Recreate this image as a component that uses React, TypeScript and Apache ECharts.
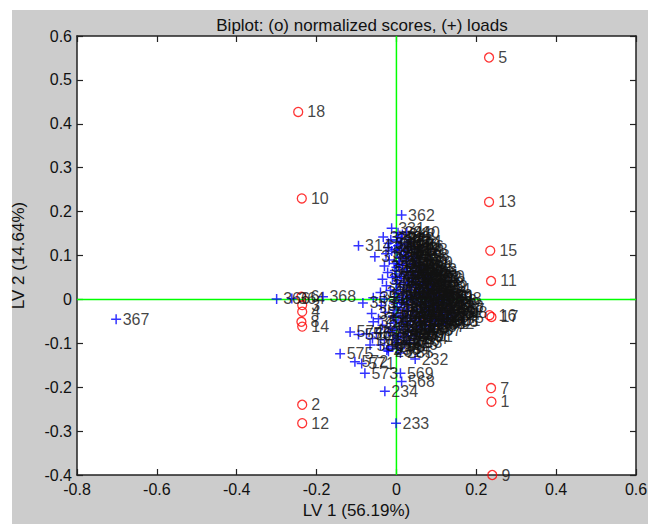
import React, { useEffect, useRef } from 'react';
import * as echarts from 'echarts';

const titleText = 'Biplot: (o) normalized scores, (+) loads';
const xAxisName = 'LV 1 (56.19%)';
const yAxisName = 'LV 2 (14.64%)';
const xMin = -0.8;
const xMax = 0.6;
const xStep = 0.2;
const yMin = -0.4;
const yMax = 0.6;
const yStep = 0.1;

// normalized scores (red circles)
const scoreNames = ['1', '2', '3', '4', '5', '6', '7', '8', '9', '10', '11', '12', '13', '14', '15', '16', '17', '18'];
const scoreX = [0.238, -0.236, -0.236, -0.236, 0.232, -0.238, 0.237, -0.238, 0.240, -0.237, 0.237, -0.236, 0.232, -0.236, 0.235, 0.233, 0.238, -0.246];
const scoreY = [-0.233, -0.240, -0.013, -0.028, 0.551, 0.006, -0.202, -0.051, -0.400, 0.230, 0.042, -0.282, 0.222, -0.062, 0.111, -0.036, -0.040, 0.427];

// loads (blue plus): [x, y, label]
const loads: [number, number, string][] = [
  [-0.702, -0.045, '367'], [-0.300, 0.001, '366'], [-0.262, 0.002, '364'], [-0.184, 0.006, '368'],
  [0.013, 0.192, '362'], [-0.012, 0.162, '331'], [-0.095, 0.122, '314'], [-0.054, 0.097, '318'],
  [-0.033, 0.142, '329'], [-0.020, 0.128, '330'], [-0.058, 0.004, '351'], [-0.084, -0.008, '353'],
  [-0.062, -0.032, '355'], [-0.058, -0.051, '357'], [-0.116, -0.074, '574'], [-0.141, -0.124, '575'],
  [-0.104, -0.142, '572'], [-0.087, -0.146, '571'], [-0.079, -0.168, '573'], [-0.029, -0.209, '234'],
  [-0.001, -0.282, '233'], [0.047, -0.136, '232'], [0.010, -0.168, '569'], [0.013, -0.187, '568'],
  [-0.021, -0.111, '578'], [0.127, -0.047, '301'], [0.088, 0.052, '360'],
  [-0.066, -0.104, '580'], [-0.024, -0.115, '236'], [-0.004, -0.092, '237'],
  [-0.095, -0.080, '576'], [-0.075, -0.078, '570'],
  [-0.012, 0.110, '315'], [-0.010, 0.050, '316'], [-0.015, 0.020, '317'], [-0.008, -0.040, '258'], [-0.015, -0.065, '259'],
  [0.004, 0.152, '341'], [0.015, 0.148, '342'], [0.026, 0.153, '340'],
  [-0.014, 0.136, '332'], [0.001, 0.133, '333'], [0.012, 0.138, '343'], [0.030, 0.132, '344'],
  [-0.021, 0.118, '319'], [0.004, 0.122, '334'], [0.020, 0.117, '345'], [0.036, 0.121, '346'], [0.045, 0.114, '348'],
  [-0.026, 0.104, '320'], [0.002, 0.107, '335'], [0.018, 0.101, '347'], [0.031, 0.106, '349'], [0.050, 0.099, '358'],
  [-0.018, 0.090, '321'], [0.006, 0.087, '336'], [0.022, 0.093, '350'], [0.040, 0.088, '352'], [0.058, 0.084, '359'],
  [-0.030, 0.076, '322'], [0.000, 0.073, '337'], [0.015, 0.078, '354'], [0.035, 0.071, '356'], [0.050, 0.077, '361'], [0.068, 0.069, '363'],
  [-0.022, 0.061, '323'], [0.008, 0.058, '338'], [0.025, 0.063, '365'], [0.045, 0.057, '369'], [0.062, 0.061, '370'], [0.075, 0.055, '371'],
  [-0.035, 0.046, '324'], [0.003, 0.043, '339'], [0.020, 0.048, '372'], [0.038, 0.042, '373'], [0.055, 0.047, '374'], [0.072, 0.041, '375'], [0.085, 0.045, '376'],
  [-0.025, 0.031, '325'], [0.010, 0.028, '377'], [0.028, 0.033, '378'], [0.048, 0.027, '379'], [0.066, 0.032, '380'], [0.080, 0.026, '381'], [0.095, 0.030, '382'],
  [-0.040, 0.016, '326'], [0.004, 0.013, '383'], [0.018, 0.018, '384'], [0.036, 0.012, '385'], [0.058, 0.017, '386'], [0.075, 0.011, '387'], [0.092, 0.016, '388'], [0.108, 0.010, '389'],
  [-0.030, 0.001, '327'], [0.008, -0.002, '390'], [0.025, 0.003, '391'], [0.045, -0.001, '392'], [0.065, 0.004, '393'], [0.085, -0.003, '394'], [0.100, 0.002, '395'], [0.118, -0.002, '396'], [0.130, 0.003, '398'],
  [-0.038, -0.014, '328'], [0.002, -0.017, '280'], [0.020, -0.012, '281'], [0.040, -0.018, '282'], [0.060, -0.013, '283'], [0.080, -0.019, '284'], [0.098, -0.014, '285'], [0.115, -0.020, '286'], [0.135, -0.016, '288'],
  [-0.028, -0.029, '260'], [0.010, -0.033, '287'], [0.030, -0.027, '289'], [0.050, -0.031, '290'], [0.070, -0.028, '291'], [0.090, -0.034, '292'], [0.110, -0.029, '293'], [0.128, -0.035, '294'], [0.145, -0.030, '298'],
  [-0.045, -0.044, '261'], [0.004, -0.047, '295'], [0.022, -0.042, '296'], [0.042, -0.048, '297'], [0.062, -0.043, '299'], [0.085, -0.049, '300'], [0.105, -0.045, '302'], [0.122, -0.050, '303'],
  [-0.035, -0.059, '262'], [0.008, -0.062, '263'], [0.028, -0.057, '264'], [0.050, -0.063, '265'], [0.070, -0.058, '266'], [0.090, -0.061, '267'],
  [-0.050, -0.076, '577'], [-0.020, -0.073, '268'], [0.010, -0.078, '269'], [0.030, -0.074, '270'], [0.050, -0.079, '277'],
  [-0.060, -0.089, '579'], [-0.030, -0.092, '271'], [0.005, -0.088, '272'], [0.025, -0.094, '273'], [0.045, -0.090, '274'],
  [-0.040, -0.104, '581'], [-0.010, -0.107, '275'], [0.020, -0.102, '276'],
  [-0.020, -0.118, '231'], [0.010, -0.122, '235'],
  // second layer in the dense core
  [0.002, 0.142, '408'], [0.010, 0.126, '409'], [0.026, 0.126, '410'], [-0.004, 0.114, '411'], [0.012, 0.112, '412'],
  [0.028, 0.112, '413'], [0.010, 0.096, '414'], [0.030, 0.097, '415'], [0.046, 0.094, '416'], [-0.006, 0.082, '417'],
  [0.008, 0.080, '418'], [0.026, 0.082, '419'], [0.044, 0.081, '420'], [0.060, 0.074, '421'], [-0.004, 0.066, '422'],
  [0.016, 0.068, '423'], [0.036, 0.065, '424'], [0.054, 0.066, '425'], [0.070, 0.062, '426'], [-0.002, 0.052, '427'],
  [0.012, 0.053, '428'], [0.030, 0.054, '429'], [0.048, 0.050, '430'], [0.066, 0.049, '431'], [0.080, 0.050, '432'],
  [0.000, 0.036, '433'], [0.018, 0.038, '434'], [0.038, 0.035, '435'], [0.056, 0.038, '436'], [0.074, 0.035, '437'],
  [0.090, 0.038, '438'], [0.000, 0.022, '439'], [0.026, 0.023, '440'], [0.046, 0.021, '441'], [0.066, 0.024, '442'],
  [0.086, 0.021, '443'], [0.102, 0.023, '444'], [-0.004, 0.006, '445'], [0.016, 0.008, '446'], [0.034, 0.006, '447'],
  [0.054, 0.009, '448'], [0.074, 0.005, '449'], [0.094, 0.008, '450'], [0.112, 0.006, '451'], [-0.006, -0.008, '452'],
  [0.012, -0.008, '453'], [0.030, -0.006, '454'], [0.050, -0.009, '455'], [0.070, -0.006, '456'], [0.090, -0.009, '457'],
  [0.108, -0.008, '458'], [0.126, -0.010, '459'], [-0.004, -0.024, '460'], [0.020, -0.022, '461'], [0.040, -0.025, '462'],
  [0.060, -0.022, '463'], [0.080, -0.025, '464'], [0.100, -0.022, '465'], [0.120, -0.026, '466'], [0.138, -0.024, '467'],
  [-0.008, -0.038, '468'], [0.016, -0.039, '469'], [0.036, -0.037, '470'], [0.058, -0.038, '471'], [0.078, -0.040, '472'],
  [0.098, -0.039, '473'], [0.116, -0.041, '474'], [0.136, -0.042, '475'], [-0.006, -0.053, '476'], [0.014, -0.053, '477'],
  [0.034, -0.051, '478'], [0.056, -0.053, '479'], [0.076, -0.052, '480'], [0.096, -0.055, '481'], [0.112, -0.056, '482'],
  [-0.004, -0.068, '483'], [0.018, -0.068, '484'], [0.040, -0.069, '485'], [0.060, -0.068, '486'], [0.080, -0.070, '487'],
  [-0.008, -0.083, '488'], [0.018, -0.084, '489'], [0.036, -0.083, '490'], [0.058, -0.085, '491'], [0.002, -0.098, '492'],
  [0.032, -0.099, '493'], [0.004, -0.112, '494'],
];

const FONT = "'Liberation Sans', Arial, Helvetica, sans-serif";
const TXT = '#111111';

function fmt(v: number) {
  const r = Math.round(v * 10) / 10;
  return String(r === 0 ? 0 : r);
}

export default function App() {
  const ref = useRef<HTMLDivElement>(null);
  useEffect(() => {
    if (!ref.current) return;
    const chart = echarts.init(ref.current, null, { renderer: 'svg' });
    const axisCommon = {
      type: 'value' as const,
      splitLine: { show: false },
      axisLine: { show: true, onZero: false, lineStyle: { color: '#222', width: 1.5 } },
      axisTick: { show: true, inside: true, length: 6, lineStyle: { color: '#222', width: 1.2 } },
    };
    chart.setOption({
      animation: false,
      backgroundColor: '#cccccc',
      textStyle: { fontFamily: FONT },
      title: {
        text: titleText,
        left: 357,
        top: 12,
        textAlign: 'center',
        textStyle: { fontSize: 17, fontWeight: 'normal', color: TXT, fontFamily: FONT },
      },
      graphic: [
        { type: 'rect', shape: { x: 0, y: 0, width: 12, height: 524 }, style: { fill: '#ffffff' }, silent: true },
        { type: 'rect', shape: { x: 0, y: 0, width: 657, height: 10 }, style: { fill: '#ffffff' }, silent: true },
        { type: 'rect', shape: { x: 648, y: 0, width: 9, height: 524 }, style: { fill: '#ffffff' }, silent: true },
      ],
      grid: {
        left: 77, right: 21, top: 36, bottom: 49,
        show: true, backgroundColor: '#ffffff', borderColor: '#222', borderWidth: 0,
      },
      xAxis: [
        {
          ...axisCommon, position: 'bottom', min: xMin, max: xMax, interval: xStep,
          axisLabel: { fontSize: 16, color: TXT, margin: 6, fontFamily: FONT, formatter: fmt },
          name: xAxisName, nameLocation: 'middle', nameGap: 27,
          nameTextStyle: { fontSize: 17, color: TXT, fontFamily: FONT },
        },
        {
          ...axisCommon, position: 'top', min: xMin, max: xMax, interval: xStep,
          axisLabel: { show: false },
        },
      ],
      yAxis: [
        {
          ...axisCommon, position: 'left', min: yMin, max: yMax, interval: yStep,
          axisLabel: { fontSize: 16, color: TXT, margin: 5, fontFamily: FONT, formatter: fmt },
          name: yAxisName, nameLocation: 'middle', nameGap: 50,
          nameTextStyle: { fontSize: 17, color: TXT, fontFamily: FONT },
        },
        {
          ...axisCommon, position: 'right', min: yMin, max: yMax, interval: yStep,
          axisLabel: { show: false },
        },
      ],
      series: [
        {
          type: 'line', xAxisIndex: 0, yAxisIndex: 0, silent: true, showSymbol: false, z: 1,
          data: [[0, yMin], [0, yMax]],
          lineStyle: { color: '#00ff00', width: 1.5 },
        },
        {
          type: 'line', xAxisIndex: 0, yAxisIndex: 0, silent: true, showSymbol: false, z: 1,
          data: [[xMin, 0], [xMax, 0]],
          lineStyle: { color: '#00ff00', width: 1.5 },
        },
        {
          type: 'scatter', xAxisIndex: 0, yAxisIndex: 0, silent: true, clip: false,
          symbol: 'path://M0,5H10M5,0V10', symbolSize: 10,
          itemStyle: { color: 'none', borderColor: '#0000ff', borderWidth: 1.5 },
          label: { show: true, position: 'right', distance: -1, formatter: '{b}', fontSize: 16, color: TXT, fontFamily: FONT },
          data: loads.map(([x, y, n]) => ({ name: n, value: [x, y] })),
        },
        {
          type: 'scatter', xAxisIndex: 0, yAxisIndex: 0, silent: true, clip: false,
          symbol: 'circle', symbolSize: 9,
          itemStyle: { color: 'rgba(0,0,0,0)', borderColor: '#ff0000', borderWidth: 1.3 },
          label: { show: true, position: 'right', distance: 4, formatter: '{b}', fontSize: 16, color: TXT, fontFamily: FONT },
          data: scoreNames.map((n, i) => ({ name: n, value: [scoreX[i], scoreY[i]] })),
        },
      ],
    });
    return () => chart.dispose();
  }, []);
  return <div ref={ref} style={{ position: 'absolute', left: 0, top: 0, width: 657, height: 524 }} />;
}
